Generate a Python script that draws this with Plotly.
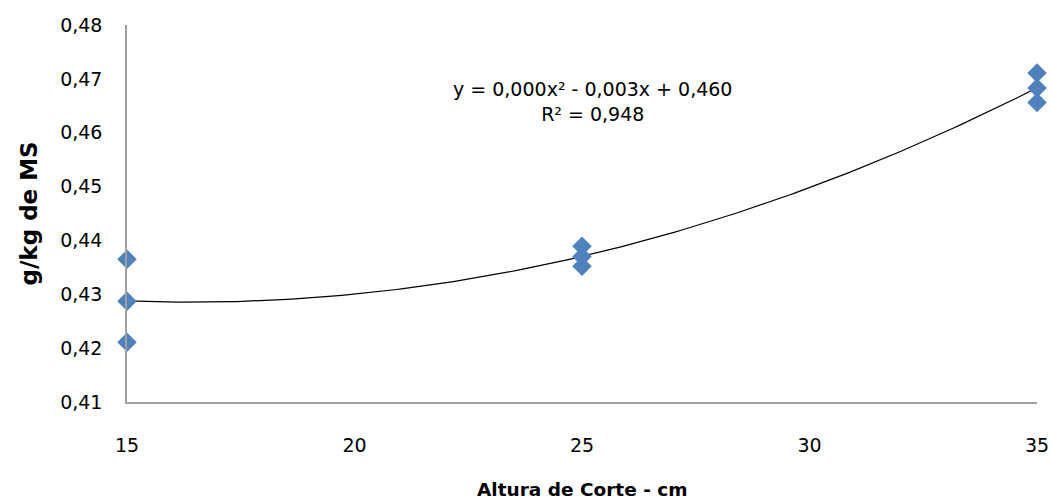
import numpy as np
import plotly.graph_objects as go

# Data
altura = [15, 15, 15, 25, 25, 25, 35, 35, 35]
valores = [0.4365, 0.4287, 0.4211, 0.4389, 0.4370, 0.4352, 0.4711, 0.4683, 0.4656]
x_ticks = [15, 20, 25, 30, 35]
y_ticks = [0.41, 0.42, 0.43, 0.44, 0.45, 0.46, 0.47, 0.48]

# Polynomial (order 2) trend line fitted to the data
coef = np.polyfit(altura, valores, 2)
xs = np.linspace(15, 35, 200)
ys = np.polyval(coef, xs)

FONT = "'DejaVu Sans', sans-serif"

fig = go.Figure()
fig.add_trace(go.Scatter(x=xs, y=ys, mode="lines",
                         line=dict(color="black", width=1.2),
                         hoverinfo="skip", showlegend=False))
fig.add_trace(go.Scatter(x=altura, y=valores, mode="markers",
                         marker=dict(symbol="diamond", size=15, color="#4F81BD",
                                     line=dict(width=0)),
                         cliponaxis=False, showlegend=False))

fig.add_annotation(x=0.511, xref="paper", y=0.4658, yref="y",
                   text="y = 0,000x² - 0,003x + 0,460<br>R² = 0,948",
                   showarrow=False, font=dict(family=FONT, size=19, color="black"),
                   align="center")

# Axis titles
fig.add_annotation(x=0.5, xref="paper", y=-0.233, yref="paper", yanchor="middle",
                   text="<b>Altura de Corte - cm</b>", showarrow=False,
                   font=dict(family=FONT, size=18.5, color="black"))
fig.add_annotation(x=-0.1077, xref="paper", y=0.5, yref="paper", xanchor="center",
                   text="<b>g/kg de MS</b>", showarrow=False, textangle=-90,
                   font=dict(family=FONT, size=23, color="black"))

fig.update_layout(
    width=1052, height=502,
    margin=dict(l=127, r=15, t=25, b=100),
    plot_bgcolor="white", paper_bgcolor="white",
    separators=", ",
    font=dict(family=FONT, size=19, color="black"),
    xaxis=dict(range=[15, 35], tickvals=x_ticks, showgrid=False, zeroline=False,
               showline=True, linecolor="#A0A0A0", linewidth=1.5, ticks="",
               ticklabelstandoff=25, automargin=False, ticklabeloverflow="allow",
               tickfont=dict(family=FONT, size=19)),
    yaxis=dict(range=[0.41, 0.48], tickvals=y_ticks, tickformat=".2f",
               showgrid=False, zeroline=False,
               showline=True, linecolor="#A0A0A0", linewidth=1.5, ticks="",
               ticklabelstandoff=19, automargin=False, ticklabeloverflow="allow",
               tickfont=dict(family=FONT, size=19)),
)

fig.write_html("out.html", config={"displayModeBar": False},
               post_script="document.body.style.margin='0';document.body.style.overflow='hidden';")
